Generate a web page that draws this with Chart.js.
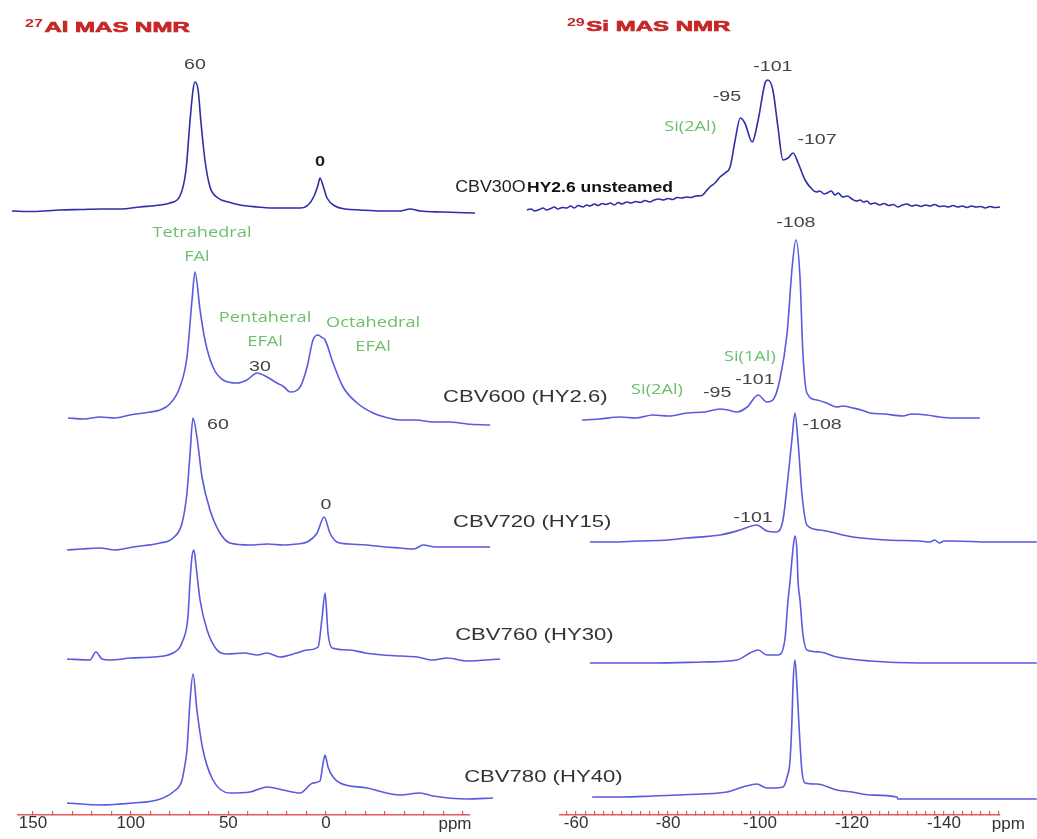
<!DOCTYPE html>
<html>
<head>
<meta charset="utf-8">
<script src="https://cdn.jsdelivr.net/npm/chart.js@4.4.1/dist/chart.umd.min.js"></script>
<style>
  html, body { margin: 0; background: #fff; }
  #wrap { position: relative; width: 1037px; height: 839px; }
  #wrap canvas { position: absolute; left: 0; top: 0; }
</style>
</head>
<body>
<div id="wrap">
  <canvas id="al" width="1037" height="839"></canvas>
  <canvas id="si" width="1037" height="839"></canvas>
</div>
<script>
// spectra as [ppm, intensity above own baseline]
const alCBV300 = [[160.8,-1],[150,-1.5],[136.2,0],[125,0.5],[115.7,1],[105,1],[95.2,3],[85,5],[79.9,7],[74.8,14],[71.7,40],[69.6,90],[68.1,120],[67.1,128],[65.5,120],[64.0,87],[62.0,50],[59.4,23],[55.3,12],[50,8],[44.0,5],[35,3],[28.7,2],[20,2],[13.3,2],[9.2,5],[6.1,14],[4.1,25],[3.1,32],[1.5,24],[-0.5,12],[-4.6,4],[-10,1],[-17.4,0],[-28,-1],[-37.9,-1],[-43.0,1],[-48.1,-1],[-60,-2],[-76.3,-3]];
const alCBV600 = [[132.1,0],[124,-1],[115.7,1],[108,0],[100.4,3],[90.1,6],[85.0,8],[80,14],[74.8,31],[71.2,61],[68.6,118],[67.1,146],[64.5,108],[62.0,78],[57.9,51],[52.7,38],[45.6,35],[40.5,38],[35.3,45],[30.2,41],[25.1,35],[23,33],[21.5,31],[18.4,26],[13.3,31],[9.7,51],[6.7,78],[4.1,83],[2.5,81],[0.5,78],[-3.6,55],[-8.7,31],[-15.9,15],[-24.1,5],[-30,1],[-37.9,-2],[-46,-2],[-54.8,-4],[-63,-4],[-72.2,-6],[-84.0,-7]];
const alCBV720 = [[132.6,-3],[125,-2],[115.7,-1],[108,-3],[98.8,0],[85.0,4],[78.3,9],[73.7,24],[71.2,54],[69.6,94],[68.1,129],[66.1,110],[63.5,70],[59.4,37],[54.3,14],[49.2,4],[38.9,2],[30,3],[22.0,2],[15,3],[9.7,5],[4.6,14],[1.0,30],[-2.0,14],[-5.6,5],[-12,3],[-21.0,2],[-30,0],[-37.9,-1],[-45,-2],[-49.7,2],[-56,0],[-63.5,0],[-84.0,0]];
const alCBV760 = [[132.6,0],[120.9,-1],[117.8,7],[114.7,0],[110.6,-1],[100,1],[88.6,2],[78.3,6],[73.2,19],[70.7,42],[69.6,79],[68.6,103],[67.6,109],[66.6,94],[64.5,59],[60.9,29],[55.8,9],[50.7,5],[42,6],[35,4],[30.2,6],[23.6,2],[15,6],[9.7,9],[4.1,12],[2.0,42],[0.5,66],[-1.0,26],[-3.1,11],[-12.3,9],[-20,6],[-29.2,4],[-38,3],[-46.6,2],[-54.8,-1],[-62,1],[-72.2,-2],[-89.1,0]];
const alCBV780 = [[132.6,0],[115.7,-2],[98.8,0],[86.5,3],[78.3,11],[73.7,23],[72.7,33],[71.2,53],[69.6,103],[68.1,129],[66.1,93],[63.0,53],[57.9,23],[49.2,10],[38.9,11],[30.2,16],[22.0,13],[13.3,10],[6.7,20],[3.1,22],[1.5,40],[0.5,48],[-1.0,36],[-3.6,26],[-7.2,20],[-21.0,15],[-37.9,8],[-48.1,10],[-54.8,7],[-72.2,4],[-85.5,5]];

const siCBV300 = [[-49.3,0],[-50.2,1],[-51,-1],[-52,0.5],[-52.8,2],[-53.6,0],[-54.5,1.5],[-55.3,3],[-56,1],[-57,2.5],[-58,2],[-58.8,4],[-59.6,2],[-60.5,4.5],[-61.5,3],[-62.3,5],[-63,4],[-64,6],[-64.8,4.5],[-65.7,6.5],[-66.5,5.5],[-67.5,7],[-68.3,5],[-69.2,7.5],[-70,6],[-71,8],[-72,7],[-73,8.5],[-74,7.5],[-75,9.5],[-76,8],[-77,10],[-78,11],[-79,10],[-80,11.5],[-81,10.5],[-82,12.5],[-83,12],[-84,13],[-85,12.5],[-86,14],[-87.4,14.5],[-88.3,19],[-89.1,23],[-90.2,27],[-91.3,33],[-92.4,37],[-93.5,43],[-94.6,70],[-95.7,92],[-96.7,87],[-98.3,68],[-99.6,90],[-101.1,127],[-101.7,130],[-102.8,120],[-103.9,83],[-105.0,50],[-106.1,52],[-107.2,57],[-108.3,47],[-109.8,30],[-111.5,20],[-112.3,18],[-113,19],[-114,16],[-114.6,17],[-115.5,19],[-116.3,15],[-117,17],[-118,13],[-119,14],[-120,11],[-121,9],[-121.8,10],[-122.5,8],[-123.3,9],[-124,6],[-125,7],[-126,5],[-127,6.5],[-128,4.5],[-129,5.5],[-130,3],[-131,5],[-132,6],[-133,4],[-134,5],[-135,3.5],[-136,5],[-137,4],[-138,5.5],[-139,3.5],[-140,4],[-141,3],[-142,4.5],[-143,3],[-144,4],[-145,2.5],[-146,4],[-147,3],[-148,3.5],[-149,2],[-150,3.5],[-151,2.5],[-152.2,3]];
const siCBV600 = [[-61.3,0],[-65,1],[-69.6,3],[-73,2],[-76.7,5],[-80,4],[-84.1,7],[-88,8],[-91.3,11],[-93,10],[-95.0,8],[-97.2,13],[-99.6,25],[-101.5,18],[-102.8,20],[-104.3,40],[-105.9,87],[-107.0,153],[-107.8,180],[-108.7,143],[-109.3,70],[-110.2,27],[-112.4,20],[-114.5,17],[-116.7,13],[-118,14],[-120.2,12],[-122,10],[-123.9,7],[-127,6],[-131.1,4],[-133,6],[-136.3,5],[-139,3],[-142.0,2],[-147.8,2]];
const siCBV720 = [[-63.0,0],[-68,0],[-73.3,1],[-80,2],[-84.1,4],[-91.3,7],[-95.7,12],[-99.3,17],[-101.5,11],[-103.7,10],[-105.0,22],[-106.1,65],[-107.0,105],[-107.6,129],[-108.3,99],[-109.1,49],[-110.2,17],[-113.0,12],[-120.2,5],[-127.6,2],[-134.8,1],[-137,0],[-138,2],[-139,-1],[-140,1],[-142.0,1],[-150,0],[-160.2,0]];
const siCBV760 = [[-63.0,0],[-76.7,0],[-87.6,1],[-95.0,3],[-97.8,10],[-99.6,13],[-101.5,8],[-103.9,8],[-105.4,23],[-106.1,63],[-106.5,80],[-107.2,115],[-107.6,127],[-108.0,115],[-108.3,80],[-108.7,63],[-109.3,30],[-110.2,13],[-113.0,11],[-116.7,6],[-123.9,2],[-134.8,0],[-160.2,0]];
const siCBV780 = [[-63.5,0],[-70,0],[-76.7,1],[-82,2],[-87.0,3],[-92.8,5],[-96.3,10],[-99.3,13],[-101.5,9],[-103,9],[-105.0,10],[-105.9,20],[-106.5,35],[-106.9,70],[-107.2,114],[-107.6,137],[-108.0,114],[-108.5,70],[-109.1,27],[-109.8,14],[-112.4,13],[-116.7,7],[-120,5],[-123.9,2],[-129.8,0],[-130.0,-2],[-142.0,-2],[-160.2,-2]];

const alSpectra = [alCBV300, alCBV600, alCBV720, alCBV760, alCBV780];
const siSpectra = [siCBV300, siCBV600, siCBV720, siCBV760, siCBV780];
// stacking offsets (same arbitrary intensity units)
const alOffsets = [605, 397, 268, 156, 12];
const siOffsets = [605, 395, 273, 152, 18];

const alTickLabels = [150, 100, 50, 0];
const siTickLabels = [-60, -80, -100, -120, -140];

const lineColors = ['#2e2ea6', '#5a5ade', '#5a5ade', '#5a5ade', '#5a5ade'];
const RED = '#e25a5a';

const TEXT = {
  title: { font: 'bold 15px "Liberation Sans"', sup: 'bold 10px "Liberation Sans"', color: '#c62828', stretch: 1.6, stroke: 0.7 },
  sample: { font: '17px "Liberation Sans"', color: '#333', stretch: 1.3 },
  sampleTop: { font: '17px "Liberation Sans"', color: '#222', stretch: 1.05 },
  sampleBold: { font: 'bold 14px "Liberation Sans"', color: '#111', stretch: 1.25 },
  peak: { font: '14px "Liberation Sans"', color: '#444', stretch: 1.4 },
  peakBold: { font: 'bold 14px "Liberation Sans"', color: '#222', stretch: 1.3 },
  site: { font: '14px "Open Sans"', color: '#6cbf6c', stretch: 1.3 },
  unit: { font: '17px "Liberation Sans"', color: '#333', stretch: 1 }
};

const alNotes = [
  { sup: '27', text: 'Al MAS NMR', x: 154.1, y: 787, style: 'title', align: 'left' },
  { text: '60', x: 67.1, y: 750, style: 'peak' },
  { text: '0', x: 3.1, y: 653, style: 'peakBold' },
  { text: 'Tetrahedral', x: 63.5, y: 582, style: 'site' },
  { text: 'FAl', x: 66.1, y: 558, style: 'site' },
  { text: 'Pentaheral', x: 31.2, y: 497, style: 'site' },
  { text: 'EFAl', x: 31.2, y: 473, style: 'site' },
  { text: 'Octahedral', x: -24.1, y: 492, style: 'site' },
  { text: 'EFAl', x: -24.1, y: 468, style: 'site' },
  { text: '30', x: 33.8, y: 448, style: 'peak' },
  { text: '60', x: 55.3, y: 390, style: 'peak' },
  { text: '0', x: 0, y: 310, style: 'peak' },
  { text: 'CBV30O', x: -66.1, y: 628, style: 'sampleTop', align: 'left' },
  { text: 'HY2.6 unsteamed', x: -102.9, y: 627, style: 'sampleBold', align: 'left' },
  { text: 'CBV600 (HY2.6)', x: -59.9, y: 418, style: 'sample', align: 'left' },
  { text: 'CBV720 (HY15)', x: -65.0, y: 293, style: 'sample', align: 'left' },
  { text: 'CBV760 (HY30)', x: -66.1, y: 180, style: 'sample', align: 'left' },
  { text: 'CBV780 (HY40)', x: -70.7, y: 38, style: 'sample', align: 'left' },
  { text: 'ppm', x: -66, y: -9, style: 'unit' }
];

const siNotes = [
  { sup: '29', text: 'Si MAS NMR', x: -58.0, y: 788, style: 'title', align: 'left' },
  { text: '-95', x: -92.8, y: 718, style: 'peak' },
  { text: '-101', x: -102.8, y: 748, style: 'peak' },
  { text: '-107', x: -112.4, y: 675, style: 'peak' },
  { text: 'Si(2Al)', x: -84.8, y: 688, style: 'site' },
  { text: '-108', x: -107.8, y: 592, style: 'peak' },
  { text: 'Si(1Al)', x: -97.8, y: 458, style: 'site' },
  { text: '-101', x: -98.9, y: 435, style: 'peak' },
  { text: '-95', x: -90.7, y: 422, style: 'peak' },
  { text: 'Si(2Al)', x: -77.6, y: 425, style: 'site' },
  { text: '-108', x: -113.5, y: 390, style: 'peak' },
  { text: '-101', x: -98.5, y: 297, style: 'peak' },
  { text: 'ppm', x: -154, y: -9, style: 'unit' }
];

const notesPlugin = {
  id: 'notes',
  afterDatasetsDraw(chart, args, opts) {
    const { ctx } = chart;
    const { x, y } = chart.scales;
    (opts.items || []).forEach((n) => {
      const s = TEXT[n.style];
      ctx.save();
      ctx.translate(x.getPixelForValue(n.x), y.getPixelForValue(n.y));
      ctx.scale(s.stretch, 1);
      ctx.textBaseline = 'middle';
      ctx.fillStyle = s.color;
      ctx.strokeStyle = s.color;
      ctx.lineWidth = s.stroke || 0;
      let cx = 0;
      if (n.sup) {
        ctx.font = s.sup;
        ctx.textAlign = 'left';
        ctx.fillText(n.sup, 0, -4);
        cx = ctx.measureText(n.sup).width + 1;
      }
      ctx.font = s.font;
      ctx.textAlign = n.align || 'center';
      ctx.fillText(n.text, cx, 0);
      if (s.stroke) ctx.strokeText(n.text, cx, 0);
      ctx.restore();
    });
  }
};

function makeChart(id, spectra, offsets, range, padding, tickRange, labelled, notes) {
  new Chart(document.getElementById(id), {
    type: 'line',
    data: {
      datasets: spectra.map((pts, i) => ({
        data: pts.map(([ppm, v]) => ({ x: ppm, y: offsets[i] + v })),
        borderColor: lineColors[i],
        borderWidth: 1.6,
        pointRadius: 0,
        cubicInterpolationMode: 'monotone',
        clip: false,
        fill: false
      }))
    },
    options: {
      responsive: false,
      animation: false,
      events: [],
      layout: { padding },
      plugins: {
        legend: { display: false },
        tooltip: { enabled: false },
        notes: { items: notes }
      },
      scales: {
        x: {
          type: 'linear',
          reverse: true,
          min: range[0],
          max: range[1],
          afterFit: (scale) => { scale.height = 24; },
          afterBuildTicks: (scale) => {
            const ticks = [];
            for (let v = tickRange[0]; v >= tickRange[1]; v -= tickRange[2]) ticks.push({ value: v });
            scale.ticks = ticks;
          },
          grid: { display: true, drawOnChartArea: false, drawTicks: true, tickLength: -4, color: RED, lineWidth: 1.2 },
          border: { display: true, color: RED, width: 1.5 },
          ticks: {
            autoSkip: false,
            maxRotation: 0,
            minRotation: 0,
            padding: 2,
            color: '#333',
            font: { family: 'Liberation Sans', size: 17 },
            callback: (v) => (labelled.includes(v) ? String(v) : '')
          }
        },
        y: { display: false, min: 0, max: 815 }
      }
    },
    plugins: [notesPlugin]
  });
}

makeChart('al', alSpectra, alOffsets, [-73.7, 157.7], { left: 18, right: 567, top: 0, bottom: 0 }, [150, -70, 10], alTickLabels, alNotes);
makeChart('si', siSpectra, siOffsets, [-152.2, -56.5], { left: 560, right: 37, top: 0, bottom: 0 }, [-58, -152, 2], siTickLabels, siNotes);
</script>
</body>
</html>
